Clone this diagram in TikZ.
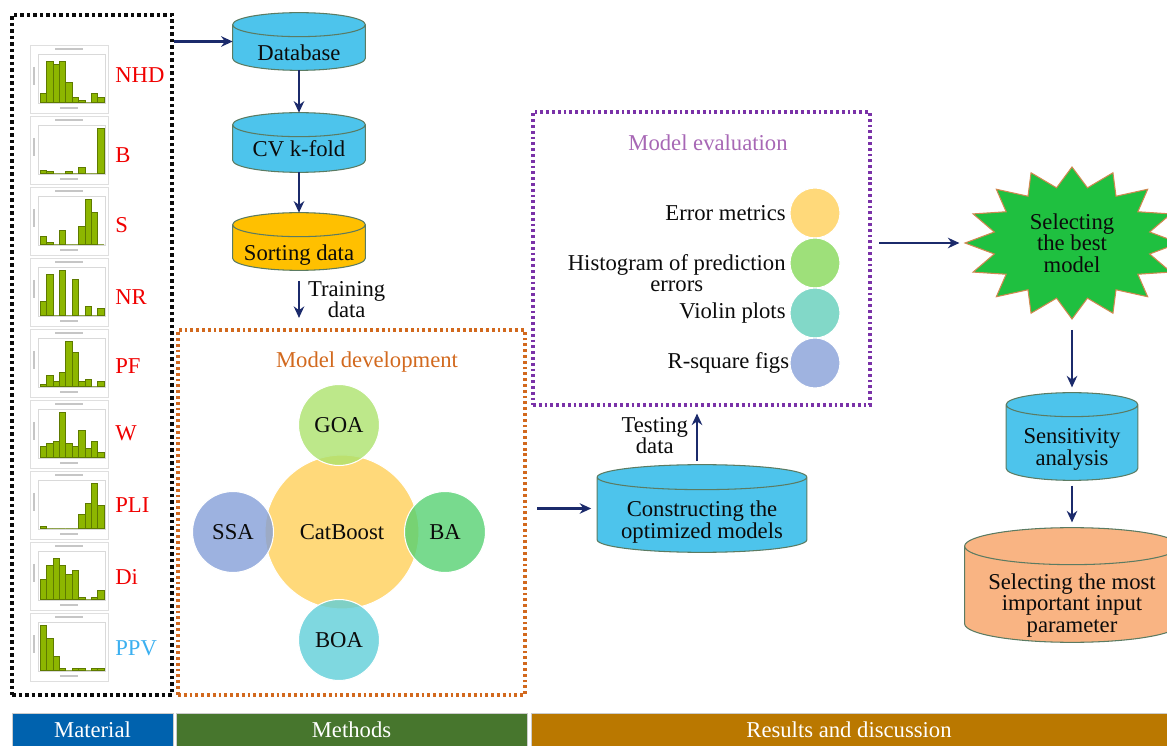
\documentclass[tikz,border=0pt]{standalone}
\usepackage{fontspec}
\setmainfont{Liberation Serif}
\usetikzlibrary{positioning,arrows.meta,calc,backgrounds}
\definecolor{ink}{HTML}{0b0b0b}
\definecolor{navy}{HTML}{1B2A6B}
\definecolor{cylblue}{HTML}{4DC4EC}
\definecolor{cylline}{HTML}{5B7B62}
\definecolor{gold}{HTML}{FFC000}
\definecolor{salmon}{HTML}{F9B483}
\definecolor{devorange}{HTML}{D2691E}
\definecolor{evalpurple}{HTML}{7A32A8}
\definecolor{evaltitle}{HTML}{A767B5}
\definecolor{labred}{HTML}{F00000}
\definecolor{labblue}{HTML}{3CB0F0}
\definecolor{bargreen}{HTML}{8DB600}
\definecolor{baredge}{HTML}{5E7A00}
\definecolor{catyellow}{HTML}{FFD97A}
\definecolor{goagreen}{HTML}{ACE26D}
\definecolor{ssablue}{HTML}{849FD8}
\definecolor{bagreen}{HTML}{56D172}
\definecolor{boateal}{HTML}{5FCED8}
\definecolor{errcol}{HTML}{FFD97A}
\definecolor{histcol}{HTML}{9EE07A}
\definecolor{violcol}{HTML}{82D8C8}
\definecolor{rsqcol}{HTML}{9FB3E0}
\definecolor{starfill}{HTML}{1FC040}
\definecolor{starline}{HTML}{D08850}
\definecolor{matbar}{HTML}{0062AE}
\definecolor{methbar}{HTML}{47762D}
\definecolor{resbar}{HTML}{BA7800}
\newcommand{\diagfont}{\fontsize{12.9}{12.2}\selectfont}
% text sits in the body of a drum, below its lid
\newcommand{\lowtext}[2][8pt]{\raisebox{-#1}[\height][\depth]{\begin{tabular}{@{}c@{}}#2\end{tabular}}}
% drum outline behind a named node: name, fill, lid radius
\newcommand{\drum}[3]{%
  \begin{pgfonlayer}{background}
  \path[fill=#2,draw=cylline,line width=0.6pt] let \p1=(#1.north west), \p2=(#1.south east), \n1={(\x2-\x1)/2} in
    (\x1,\y1-#3) -- (\x1,\y2+#3) arc[start angle=180,end angle=360,x radius=\n1,y radius=#3]
    -- (\x2,\y1-#3) arc[start angle=0,end angle=180,x radius=\n1,y radius=#3] -- cycle
    (\x1,\y1-#3) arc[start angle=180,end angle=360,x radius=\n1,y radius=#3];
  \end{pgfonlayer}}

\begin{document}
\begin{tikzpicture}[x=0.02cm,y=-0.02cm,font=\diagfont,text=ink,
  cyl/.style={rectangle,inner sep=0pt},
  arr/.style={-{Stealth[length=2.3mm,width=2.1mm]},line width=1.6pt,draw=navy},
  ring/.style={circle,inner sep=0pt,draw=white,line width=0.6pt},
  bar/.style={fill=bargreen,draw=baredge,line width=0.2pt},
  dotbox/.style={inner sep=0pt,line width=1.8pt,dash pattern=on 1.6pt off 1.7pt},
  band/.style={minimum height=0.66cm,inner sep=0pt,text=white,draw=gray!40,line width=0.4pt}]
  \useasboundingbox (0,0) rectangle (1167,746);
  % material: histograms of the inputs
  \node[dotbox,draw=ink,line width=2.2pt,dash pattern=on 2pt off 1.7pt,minimum width=3.2cm,minimum height=13.6cm] (mat) at (92,355) {};
  \foreach \lab/\col/\ly/\hs [count=\i from 0] in {
      NHD/labred/30/{.2,.9,.85,.9,.45,.1,.05,0,.2,.1},
      B/labred/39/{.06,.05,0,0,.03,0,.12,0,0,1},
      S/labred/38/{.18,.03,0,.3,0,0,.4,1,.7,0},
      NR/labred/39/{.3,.9,0,1,0,.8,0,.2,0,.15},
      PF/labred/37/{.05,.25,.1,.3,1,.75,.1,.15,0,.1},
      W/labred/33/{.25,.3,.35,1,.3,.25,.6,.2,.35,.1},
      PLI/labred/34/{.05,0,0,0,0,0,.3,.55,1,.5},
      Di/labred/35/{.45,.75,.9,.75,.55,.65,.05,0,.05,.2},
      PPV/labblue/35/{1,.7,.3,.05,0,.03,.03,0,.03,.03}} {
    \pgfmathsetmacro\ptop{45+71*\i}
    \draw[gray!25,fill=white] (30,\ptop) rectangle (108,{\ptop+68});
    \draw[gray!30,line width=0.3pt] (38,{\ptop+9}) rectangle (105,{\ptop+58});
    \draw[gray!45,line width=0.8pt] (55,{\ptop+4}) -- (83,{\ptop+4});
    \draw[gray!45,line width=0.6pt] (60,{\ptop+63}) -- (78,{\ptop+63});
    \draw[gray!45,line width=0.6pt] (34,{\ptop+22}) -- (34,{\ptop+40});
    \foreach \h [count=\k from 0] in \hs
      \filldraw[bar] ({40+6.4*\k},{\ptop+57}) rectangle ++(6.4,{-45*\h});
    \node[anchor=west,text=\col,inner sep=0pt] (lab\i) at (115,{\ptop+\ly}) {\lab};
  }
  % methods
  \node[cyl,minimum width=2.64cm,minimum height=1.14cm] (db) at (299,41.5) {\lowtext{Database}};
  \node[cyl,minimum width=2.64cm,minimum height=1.18cm] (cv) at (299,142.5) {\lowtext[5.5pt]{CV k-fold}};
  \node[cyl,minimum width=2.64cm,minimum height=1.14cm] (sort) at (299,241.5) {\lowtext{Sorting data}};
  \drum{db}{cylblue}{0.24cm}
  \drum{cv}{cylblue}{0.24cm}
  \drum{sort}{gold}{0.24cm}
  \node[dotbox,draw=devorange,minimum width=6.94cm,minimum height=7.3cm] (dev) at (351.5,512.5) {};
  \node[text=devorange] (devtitle) at (367,362) {Model development};
  \node[ring,fill=catyellow,minimum size=3.08cm] (cat) at (342,532) {CatBoost};
  \foreach \nm/\fc/\cx/\cy in {goa/goagreen/339/425,ssa/ssablue/233/532,ba/bagreen/445/532,boa/boateal/339/640}
    \node[ring,fill=\fc,fill opacity=0.8,text opacity=1,minimum size=1.62cm] (\nm) at (\cx,\cy) {\MakeUppercase{\nm}};
  \draw[arr] (mat.east |- db.west) -- (db.west);
  \draw[arr] (db) -- (cv);
  \draw[arr] (cv) -- (sort);
  \draw[arr,shorten <=6pt,shorten >=6pt] (sort.south) -- (sort.south |- dev.north)
    node[midway,right=1pt,align=center] {Training\\data};
  % results
  \node[cyl,minimum width=4.18cm,minimum height=1.74cm] (cons) at (702,508.5) {\lowtext[8pt]{Constructing the\\optimized models}};
  \drum{cons}{cylblue}{0.25cm}
  \draw[arr,shorten <=6pt,shorten >=3.4pt] (dev.east |- cons.west) -- (cons.west);
  \node[dotbox,draw=evalpurple,minimum width=6.74cm,minimum height=5.86cm] (eval) at (701.5,258.5) {};
  \node[text=evaltitle] (evaltitle) at (708,143) {Model evaluation};
  \node[ring,fill=errcol,minimum size=1cm] (err) at (815,213) {};
  \node[ring,fill=histcol,minimum size=1cm] (hist) at (815,263) {};
  \node[ring,fill=violcol,minimum size=1cm] (viol) at (815,313) {};
  \node[ring,fill=rsqcol,minimum size=1cm] (rsq) at (815,363) {};
  \node[left=0pt of err,inner sep=2pt] (errlab) {Error metrics};
  \node[left=0pt of hist,inner sep=2pt,yshift=-0.2cm,align=center] (histlab) {Histogram of prediction\\errors};
  \node[left=0pt of viol,inner sep=2pt] (viollab) {Violin plots};
  \node[left=-1pt of rsq,inner sep=1pt] (rsqlab) {R-square figs};
  \draw[arr,shorten <=2pt,shorten >=4pt] ([xshift=-0.1cm]cons.north) -- ([xshift=-0.1cm]cons.north |- eval.south)
    node[midway,left=1pt,align=center] {Testing\\data};
  \fill[starfill,draw=starline,line width=0.6pt,shift={(1072,243)}] (90:107 and 76)
    \foreach \k in {1,...,31} { -- ({90+11.25*\k}:{ifthenelse(isodd(\k),0.74,1)*107} and {ifthenelse(isodd(\k),0.74,1)*76}) } -- cycle;
  \node[align=center,minimum width=4.28cm,minimum height=3.04cm,inner sep=0pt] (best) at (1072,243) {Selecting\\the best\\model};
  \draw[arr,shorten <=4.5pt,shorten >=3pt] (eval.east |- best.west) -- (best.west);
  \node[cyl,minimum width=2.62cm,minimum height=1.74cm] (sens) at (1072,436.5) {\lowtext[8pt]{Sensitivity\\analysis}};
  \node[cyl,minimum width=4.28cm,minimum height=2.28cm] (final) at (1072,585) {\lowtext[12pt]{Selecting the most\\important input\\parameter}};
  \drum{sens}{cylblue}{0.24cm}
  \drum{final}{salmon}{0.37cm}
  \draw[arr,shorten <=6pt,shorten >=3pt] (best.south) -- (sens.north);
  \draw[arr,shorten <=3pt,shorten >=3pt] (sens) -- (final);
  % section bands
  \node[band,fill=matbar,minimum width=3.22cm] (matband) at (92.5,729.5) {Material};
  \node[band,fill=methbar,minimum width=7.02cm] (methband) at (351.5,729.5) {Methods};
  \node[band,fill=resbar,minimum width=12.72cm] (resband) at (849,729.5) {Results and discussion};
\end{tikzpicture}
\end{document}
